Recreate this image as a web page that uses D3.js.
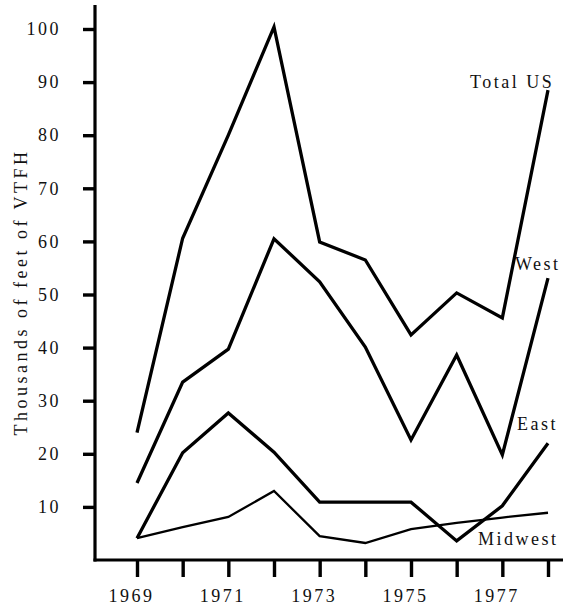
<!DOCTYPE html>
<html>
<head>
<meta charset="utf-8">
<script src="https://cdn.jsdelivr.net/npm/d3@7"></script>
<style>
  html, body { margin: 0; padding: 0; background: #fff; }
  svg { display: block; }
  text { font-family: "Liberation Serif", "DejaVu Serif", serif; fill: #111; }
</style>
</head>
<body>
<svg id="chart" width="564" height="607"></svg>
<script>
// Vertical feet drilled (thousands), by region
const years   = [1969, 1970, 1971, 1972, 1973, 1974, 1975, 1976, 1977, 1978];
const totalUS = [24, 60.6, 80, 100.4, 59.9, 56.5, 42.4, 50.3, 45.6, 88.5];
const west    = [14.5, 33.5, 39.7, 60.5, 52.4, 40.1, 22.6, 38.6, 19.8, 53.1];
const east    = [4.1, 20.2, 27.7, 20.3, 10.9, 10.9, 10.9, 3.6, 10.2, 22];
const midwest = [4.1, 6.2, 8.1, 13, 4.5, 3.2, 5.8, 7, 8, 8.9];
const yTicks  = [10, 20, 30, 40, 50, 60, 70, 80, 90, 100];
const seriesNames = ["Total US", "West", "East", "Midwest"];
const axisTitle = "Thousands of feet of VTFH";

const svg = d3.select("#chart");
const x = d3.scaleLinear().domain([1969, 1978]).range([137, 548]);
const y = d3.scaleLinear().domain([0, 100]).range([560, 29]);

const FONT_FAMILY = "Liberation Serif, serif";
const FONT = 18, SPACING = 2.5;

// axis lines
svg.append("line")
  .attr("x1", 95).attr("x2", 95).attr("y1", y(0) + 1.5).attr("y2", 5)
  .attr("stroke", "#000").attr("stroke-width", 3.2);
svg.append("line")
  .attr("x1", 93.5).attr("x2", 563).attr("y1", y(0)).attr("y2", y(0))
  .attr("stroke", "#000").attr("stroke-width", 3.2);

// y axis ticks and labels
const yAxis = svg.append("g").attr("transform", "translate(95,0)")
  .call(d3.axisLeft(y).tickValues(yTicks).tickSize(12).tickPadding(22).tickFormat(d3.format("d")));
yAxis.select(".domain").remove();
yAxis.selectAll(".tick line").attr("stroke", "#000").attr("stroke-width", 3.4);
yAxis.selectAll(".tick text")
  .attr("font-family", FONT_FAMILY)
  .attr("font-size", FONT).attr("letter-spacing", SPACING).attr("fill", "#111");

// x axis ticks, labels on odd years only
const xAxis = svg.append("g").attr("transform", `translate(0,${y(0)})`)
  .call(d3.axisBottom(x).tickValues(years).tickSize(17).tickPadding(12)
    .tickFormat(d => d % 2 === 1 ? String(d) : ""));
xAxis.select(".domain").remove();
xAxis.selectAll(".tick line").attr("stroke", "#000").attr("stroke-width", 3.4);
xAxis.selectAll(".tick text")
  .attr("font-family", FONT_FAMILY)
  .attr("font-size", FONT).attr("letter-spacing", SPACING).attr("fill", "#111")
  .attr("dx", -6);

// y axis title
svg.append("text")
  .attr("transform", "translate(27,292) rotate(-90)")
  .attr("text-anchor", "middle")
  .attr("font-size", FONT).attr("letter-spacing", 3.5)
  .text(axisTitle);

// series lines
const line = d3.line().x((d, i) => x(years[i])).y(d => y(d));
const series = [
  { values: totalUS, width: 3.3 },
  { values: west,    width: 3.3 },
  { values: east,    width: 3.3 },
  { values: midwest, width: 2.3 }
];
svg.append("g").selectAll("path").data(series).join("path")
  .attr("d", d => line(d.values))
  .attr("fill", "none").attr("stroke", "#000")
  .attr("stroke-width", d => d.width)
  .attr("stroke-linejoin", "miter");

// series labels
const labelPos = [
  { name: seriesNames[0], x: 470, y: 88 },
  { name: seriesNames[1], x: 515, y: 270 },
  { name: seriesNames[2], x: 517, y: 430 },
  { name: seriesNames[3], x: 478, y: 545 }
];
svg.append("g").selectAll("text").data(labelPos).join("text")
  .attr("x", d => d.x).attr("y", d => d.y)
  .attr("font-size", FONT).attr("letter-spacing", SPACING)
  .text(d => d.name);
</script>
</body>
</html>
